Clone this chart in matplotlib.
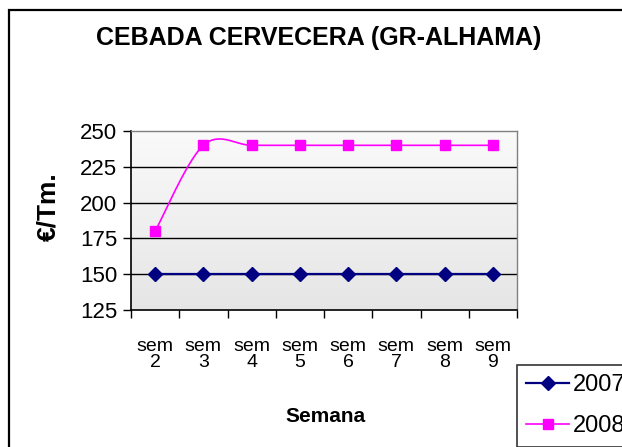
import numpy as np
import matplotlib
matplotlib.use("Agg")
import matplotlib.pyplot as plt
from matplotlib.patches import Rectangle
from matplotlib import font_manager

plt.rcParams['font.family'] = ['Liberation Sans', 'DejaVu Sans']

# condensed face for the headings if it is there
try:
    font_manager.findfont('Liberation Sans Narrow', fallback_to_default=False)
    NARROW = 'Liberation Sans Narrow'
except Exception:
    NARROW = None

# data
semanas = ['sem\n2', 'sem\n3', 'sem\n4', 'sem\n5', 'sem\n6', 'sem\n7', 'sem\n8', 'sem\n9']
precio_2007 = [150, 150, 150, 150, 150, 150, 150, 150]
precio_2008 = [180, 240, 240, 240, 240, 240, 240, 240]
yticks = [125, 150, 175, 200, 225, 250]


def smooth(x, y, n=30):
    # excel style smoothed line (catmull-rom as cubic bezier)
    x = np.asarray(x, float)
    y = np.asarray(y, float)
    px = np.concatenate([[x[0]], x, [x[-1]]])
    py = np.concatenate([[y[0]], y, [y[-1]]])
    xs, ys = [], []
    t = np.linspace(0, 1, n)
    for i in range(1, len(px) - 2):
        p0 = np.array([px[i], py[i]])
        p3 = np.array([px[i + 1], py[i + 1]])
        c1 = p0 + (np.array([px[i + 1], py[i + 1]]) - np.array([px[i - 1], py[i - 1]])) / 6
        c2 = p3 - (np.array([px[i + 2], py[i + 2]]) - np.array([px[i], py[i]])) / 6
        b = ((1 - t) ** 3)[:, None] * p0 + (3 * t * (1 - t) ** 2)[:, None] * c1 \
            + (3 * t ** 2 * (1 - t))[:, None] * c2 + (t ** 3)[:, None] * p3
        xs.extend(b[:, 0])
        ys.extend(b[:, 1])
    return xs, ys


def head(size):
    if NARROW:
        return dict(family=NARROW, fontsize=size * 1.2, fontweight='bold')
    return dict(fontsize=size, fontweight='bold')


W, H = 622, 447
fig = plt.figure(figsize=(W / 100, H / 100), dpi=100)
ax = fig.add_axes([131 / W, 1 - 310 / H, (517 - 131) / W, (310 - 131) / H])

x = np.arange(len(semanas)) + 0.5

# gradient background
grad = np.linspace(0.98, 0.90, 256)[:, None]
ax.imshow(np.dstack([grad, grad, grad]), extent=[0, 8, 125, 250], aspect='auto',
          origin='upper', zorder=0)

for yv in yticks[1:-1]:
    ax.axhline(yv, color='black', lw=1.0, zorder=1)

ax.plot(x, precio_2007, color='#000080', lw=1.6, marker='D', ms=7,
        label='2007', zorder=3)
sx, sy = smooth(x, precio_2008)
ax.plot(sx, sy, color='#ff00ff', lw=1.2, zorder=3)
ax.plot(x, precio_2008, color='#ff00ff', lw=0, marker='s', ms=7, zorder=4)
ax.plot([], [], color='#ff00ff', lw=1.2, marker='s', ms=7, label='2008')

ax.set_xlim(0, 8)
ax.set_ylim(125, 250)
ax.set_yticks(yticks)
ax.set_xticks(np.arange(0, 9))
ax.set_xticklabels([])
for xi, lab in zip(x, semanas):
    ax.text(xi, -0.155, lab, transform=ax.get_xaxis_transform(), ha='center',
            va='top', fontsize=14, linespacing=0.95)

ax.tick_params(axis='y', direction='out', length=6, width=1, labelsize=16, pad=4)
ax.tick_params(axis='x', direction='out', length=6, width=1)
for s in ['left', 'bottom']:
    ax.spines[s].set_linewidth(1.2)
for s in ['top', 'right']:
    ax.spines[s].set_color('#808080')
    ax.spines[s].set_linewidth(1.0)

fig.text(319 / W, 1 - 38 / H, 'CEBADA CERVECERA (GR-ALHAMA)', ha='center', va='center',
         **head(18))
fig.text(48 / W, 1 - 207 / H, '€/Tm.', rotation=90, ha='center', va='center',
         **head(19))
fig.text(325 / W, 1 - 416 / H, 'Semana', ha='center', va='center', **head(15))

fig.patches.append(Rectangle((8.5 / W, -0.2), 1.2, 1.2 - 10 / H, transform=fig.transFigure,
                             fill=False, ec='black', lw=1.6))

leg = fig.legend(loc='upper left', bbox_to_anchor=(517 / W, 1 - 365 / H),
                 fontsize=17, frameon=True, fancybox=False, edgecolor='black',
                 handlelength=1.8, handletextpad=0.17, labelspacing=0.8,
                 borderpad=0.4, borderaxespad=0)
leg.get_frame().set_linewidth(1.2)

fig.savefig('out.png', dpi=100)
